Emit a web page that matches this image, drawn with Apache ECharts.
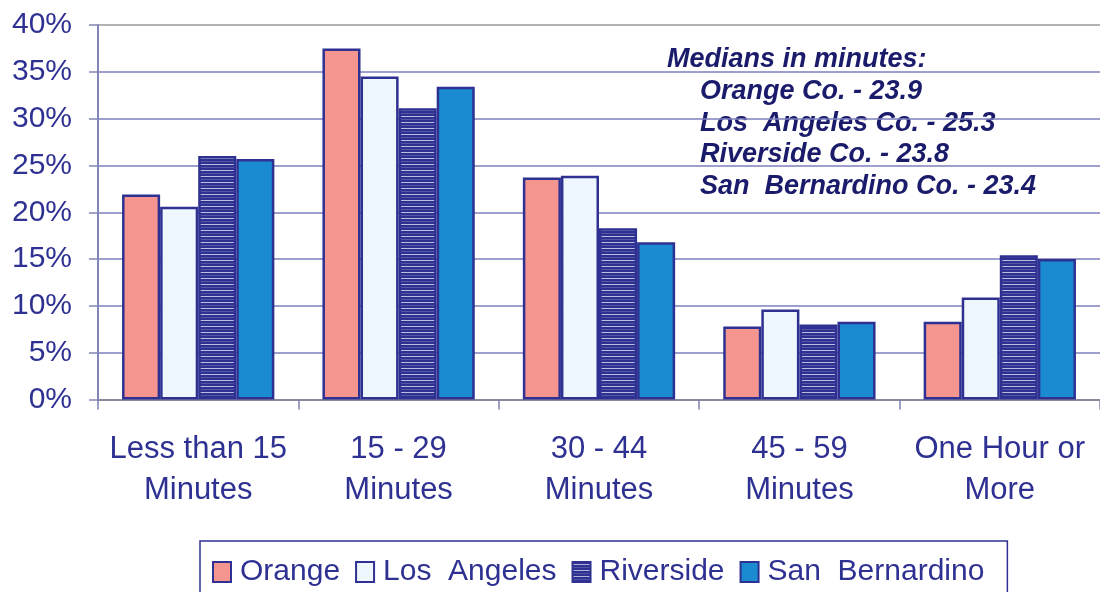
<!DOCTYPE html>
<html>
<head>
<meta charset="utf-8">
<script src="https://cdn.jsdelivr.net/npm/echarts@6/dist/echarts.min.js"></script>
<style>
html,body{margin:0;padding:0;background:#fff;}
#chart{width:1100px;height:592px;}
</style>
</head>
<body>
<div id="chart"></div>
<script>
// ---- data ----
var categories = ['Less than 15\nMinutes', '15 - 29\nMinutes', '30 - 44\nMinutes', '45 - 59\nMinutes', 'One Hour or\nMore'];
var seriesNames = ['Orange', 'Los  Angeles', 'Riverside', 'San  Bernardino'];
var orangeValues = [21.9, 37.5, 23.7, 7.8, 8.3];
var losAngelesValues = [20.6, 34.5, 23.9, 9.6, 10.9];
var riversideValues = [26.0, 31.1, 18.3, 8.0, 15.4];
var sanBernardinoValues = [25.7, 33.4, 16.8, 8.3, 15.0];
var yTicks = {min: 0, max: 40, interval: 5};
var noteTitle = 'Medians in minutes:';
var noteLines = ['Orange Co. - 23.9', 'Los  Angeles Co. - 25.3', 'Riverside Co. - 23.8', 'San  Bernardino Co. - 23.4'];

// ---- styles ----
var NAVY = '#2E3192';
var FONT = '"Liberation Sans", Arial, sans-serif';

function stripePattern() {
  var c = document.createElement('canvas');
  c.width = 8; c.height = 6;
  var g = c.getContext('2d');
  g.fillStyle = '#2E3192';
  g.fillRect(0, 0, 8, 6);
  g.fillStyle = '#B9BCDD';
  g.fillRect(0, 2, 8, 1);
  g.fillStyle = '#5257A6';
  g.fillRect(0, 5, 8, 1);
  return c;
}

var fills = ['#F4958F', '#EEF6FE', {image: stripePattern(), repeat: 'repeat'}, '#1A8BD0'];
var dataSets = [orangeValues, losAngelesValues, riversideValues, sanBernardinoValues];

var series = seriesNames.map(function (name, i) {
  return {
    name: name,
    type: 'bar',
    data: dataSets[i],
    barGap: '0%',
    barCategoryGap: '24%',
    itemStyle: {color: fills[i], borderColor: NAVY, borderWidth: 2.5},
    emphasis: {disabled: true}
  };
});

var NOTE_FONT = 'italic bold 27px ' + FONT;
var graphics = [{
  type: 'text', x: 667, y: 60,
  style: {text: noteTitle, font: NOTE_FONT, fill: '#1B1B6B', verticalAlign: 'middle'}
}];
var noteY = [92, 124, 155, 187];
noteLines.forEach(function (t, i) {
  graphics.push({
    type: 'text', x: 700, y: noteY[i],
    style: {text: t, font: NOTE_FONT, fill: '#1B1B6B', verticalAlign: 'middle'}
  });
});

var splitColors = ['#9A9A9A'];
for (var k = 1; k < 8; k++) splitColors.push('#7D81BD');
splitColors.push('#9A9A9A');

var chart = echarts.init(document.getElementById('chart'), null, {renderer: 'canvas'});
chart.setOption({
  animation: false,
  backgroundColor: '#ffffff',
  textStyle: {fontFamily: FONT},
  grid: {left: 98, top: 25, width: 1013, bottom: 192.5, containLabel: false},
  legend: {
    data: seriesNames,
    left: 200, top: 541,
    padding: [16, 23, 22, 12],
    borderColor: NAVY, borderWidth: 1.5,
    icon: 'rect',
    itemWidth: 18, itemHeight: 20, itemGap: 15,
    selectedMode: false,
    textStyle: {fontSize: 30, color: NAVY, fontFamily: FONT, padding: [0, 0, 0, 4]}
  },
  xAxis: {
    type: 'category',
    data: categories,
    axisLine: {lineStyle: {color: '#8A8A9E', width: 2}},
    axisTick: {show: true, length: 10, lineStyle: {color: '#7D80B0', width: 1.5}},
    axisLabel: {fontSize: 31, color: NAVY, lineHeight: 41, margin: 29, interval: 0, fontFamily: FONT},
    splitLine: {show: false}
  },
  yAxis: {
    type: 'value',
    min: yTicks.min, max: yTicks.max, interval: yTicks.interval,
    axisLine: {show: true, lineStyle: {color: '#8285B5', width: 2}},
    axisTick: {show: true, length: 9, lineStyle: {color: '#8285B5', width: 1.5}},
    axisLabel: {formatter: '{value}%', fontSize: 30, color: NAVY, margin: 26, fontFamily: FONT},
    splitLine: {show: true, lineStyle: {color: splitColors, width: 1.5}}
  },
  graphic: graphics,
  series: series
});
</script>
</body>
</html>
